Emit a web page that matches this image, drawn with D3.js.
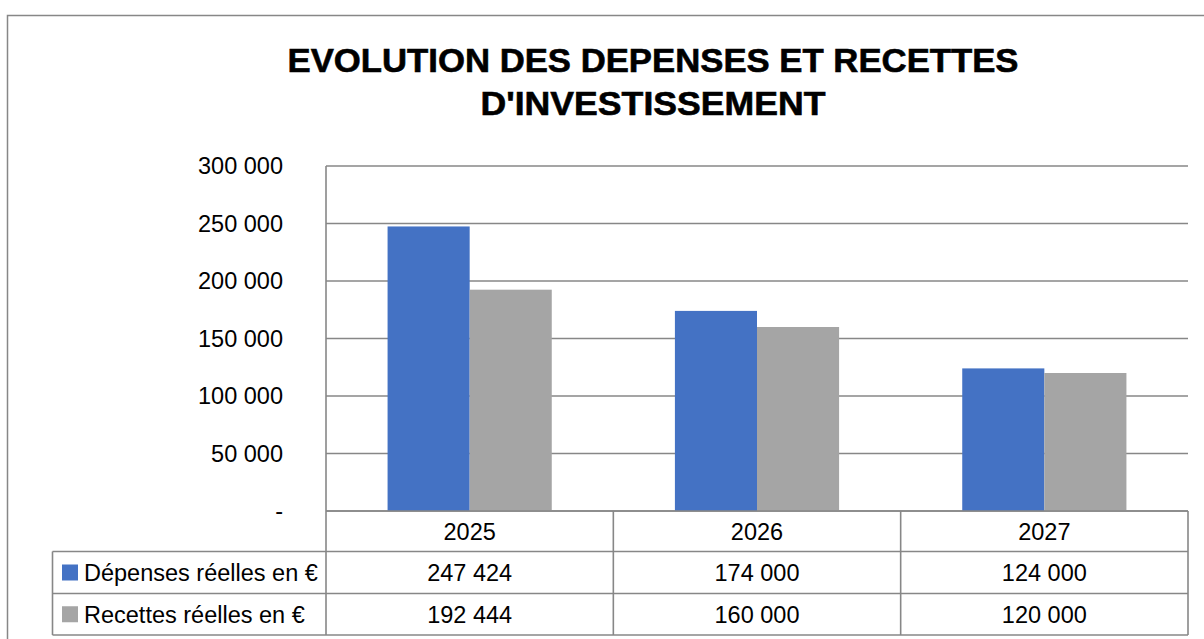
<!DOCTYPE html>
<html>
<head>
<meta charset="utf-8">
<script src="https://cdn.jsdelivr.net/npm/d3@7"></script>
<style>
  html, body { margin: 0; padding: 0; background: #fff; }
  svg { display: block; }
</style>
</head>
<body>
<svg id="chart" width="1204" height="639"></svg>
<script>
const categories = ["2025", "2026", "2027"];
const seriesNames = ["Dépenses réelles en €", "Recettes réelles en €"];
const depenses = [247424, 174000, 124000];
const recettes = [192444, 160000, 120000];
const yTicks = [0, 50000, 100000, 150000, 200000, 250000, 300000];
const titleLines = ["EVOLUTION DES DEPENSES ET RECETTES", "D'INVESTISSEMENT"];

const seriesValues = [depenses, recettes];
const colors = ["#4472C4", "#A5A5A5"];
const gridColor = "#878787";
const font = "'Liberation Sans', Arial, sans-serif";

const svg = d3.select("#chart");

// outer chart border
svg.append("path")
  .attr("d", "M7.5,639 L7.5,15.5 L1204,15.5")
  .attr("fill", "none").attr("stroke", gridColor).attr("stroke-width", 1.5);

// title
const titleG = svg.append("g");
const titleWidths = [731, 345];
const titleY = [71.5, 115];
titleLines.forEach((t, i) => {
  titleG.append("text")
    .attr("x", 653).attr("y", titleY[i])
    .attr("text-anchor", "middle")
    .attr("font-family", "'Liberation Sans Narrow', 'Liberation Sans', Arial, sans-serif")
    .attr("font-weight", "bold")
    .attr("font-size", 33.5)
    .attr("textLength", titleWidths[i])
    .attr("lengthAdjust", "spacingAndGlyphs")
    .attr("fill", "#000")
    .attr("stroke", "#000").attr("stroke-width", 0.6)
    .text(t);
});

const plotLeft = 326, plotRight = 1188, plotTop = 166, plotBottom = 511;
const x0 = d3.scaleBand().domain(categories).range([plotLeft, plotRight]).padding(0);
const bw = x0.bandwidth();
const barW = bw / 3.5;
const x1 = d3.scaleBand().domain(seriesNames).range([0.75 * barW, bw - 0.75 * barW]).padding(0);
const y = d3.scaleLinear().domain([0, 300000]).range([plotBottom, plotTop]);

const fmt = v => v === 0 ? "-" : d3.format(",")(v).replace(/,/g, " ");

// gridlines
svg.append("g").selectAll("line").data(yTicks).join("line")
  .attr("x1", plotLeft).attr("x2", plotRight)
  .attr("y1", d => y(d)).attr("y2", d => y(d))
  .attr("stroke", gridColor).attr("stroke-width", 1.6);

// y axis labels via d3 axis
const yAxis = d3.axisLeft(y).tickValues(yTicks).tickFormat(fmt).tickSize(0).tickPadding(0);
const yAxisG = svg.append("g").attr("transform", `translate(283,0)`).call(yAxis);
yAxisG.select(".domain").remove();
yAxisG.selectAll("text")
  .attr("font-family", font).attr("font-size", 23.5).attr("fill", "#000");

// bars
const groups = svg.append("g").selectAll("g").data(categories).join("g")
  .attr("transform", d => `translate(${x0(d)},0)`);
groups.selectAll("rect")
  .data((d, i) => seriesNames.map((s, j) => ({ s, j, v: seriesValues[j][i] })))
  .join("rect")
  .attr("x", d => x1(d.s))
  .attr("width", x1.bandwidth())
  .attr("y", d => y(d.v))
  .attr("height", d => y(0) - y(d.v))
  .attr("fill", d => colors[d.j]);

// vertical axis line
svg.append("line")
  .attr("x1", plotLeft).attr("x2", plotLeft)
  .attr("y1", plotTop).attr("y2", 635)
  .attr("stroke", gridColor).attr("stroke-width", 1.6);

// data table
const rowY = [511, 551.5, 593.5, 635];
const legendLeft = 52.5;
const tbl = svg.append("g");
tbl.append("line").attr("x1", plotLeft).attr("x2", plotRight).attr("y1", rowY[0]).attr("y2", rowY[0])
  .attr("stroke", gridColor).attr("stroke-width", 1.6);
[rowY[1], rowY[2], rowY[3]].forEach(yy => {
  tbl.append("line").attr("x1", legendLeft).attr("x2", plotRight).attr("y1", yy).attr("y2", yy)
    .attr("stroke", gridColor).attr("stroke-width", 1.6);
});
categories.forEach(c => {
  tbl.append("line").attr("x1", x0(c) + bw).attr("x2", x0(c) + bw).attr("y1", rowY[0]).attr("y2", rowY[3])
    .attr("stroke", gridColor).attr("stroke-width", 1.6);
});
tbl.append("line").attr("x1", legendLeft).attr("x2", legendLeft).attr("y1", rowY[1]).attr("y2", rowY[3])
  .attr("stroke", gridColor).attr("stroke-width", 1.6);

// category labels
tbl.selectAll("text.cat").data(categories).join("text").attr("class", "cat")
  .attr("x", d => x0(d) + bw / 2).attr("y", (rowY[0] + rowY[1]) / 2).attr("dy", "0.36em")
  .attr("text-anchor", "middle").attr("font-family", font).attr("font-size", 23.5).attr("fill", "#000")
  .text(d => d);

// series rows
seriesNames.forEach((s, j) => {
  const cy = (rowY[j + 1] + rowY[j + 2]) / 2;
  tbl.append("rect").attr("x", 62).attr("y", cy - 8).attr("width", 16).attr("height", 16).attr("fill", colors[j]);
  tbl.append("text").attr("x", 84).attr("y", cy).attr("dy", "0.36em")
    .attr("font-family", font).attr("font-size", 23.5).attr("fill", "#000").text(s);
  tbl.selectAll("text.v" + j).data(categories).join("text").attr("class", "v" + j)
    .attr("x", d => x0(d) + bw / 2).attr("y", cy).attr("dy", "0.36em")
    .attr("text-anchor", "middle").attr("font-family", font).attr("font-size", 23.5).attr("fill", "#000")
    .text((d, i) => fmt(seriesValues[j][i]));
});
</script>
</body>
</html>
